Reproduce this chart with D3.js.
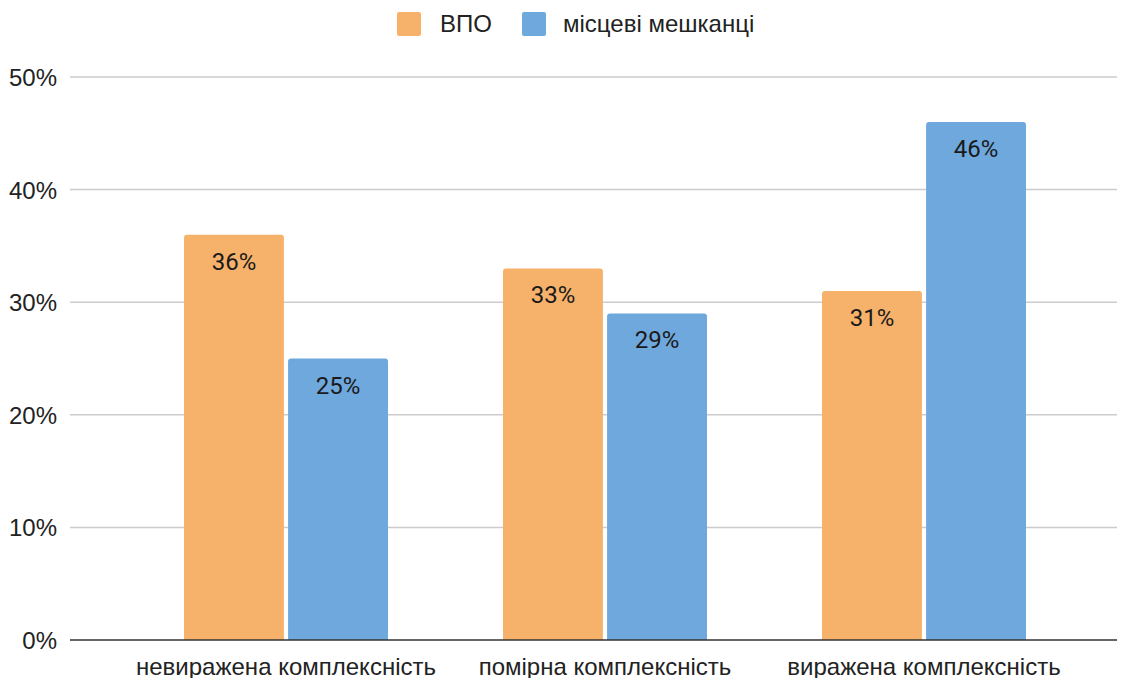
<!DOCTYPE html>
<html>
<head>
<meta charset="utf-8">
<script src="https://cdn.jsdelivr.net/npm/d3@7"></script>
<style>
  body { margin: 0; background: #fff; }
  .chart text { font-family: "Liberation Sans", Arial, sans-serif; }
</style>
</head>
<body>
<div class="chart"></div>
<script>
const categories = ["невиражена комплексність", "помірна комплексність", "виражена комплексність"];
const seriesNames = ["ВПО", "місцеві мешканці"];
const vpo = [36, 33, 31];
const locals = [25, 29, 46];
const yTicks = [0, 10, 20, 30, 40, 50];
const colors = ["#f6b26b", "#6fa8dc"];

const w = 1130, h = 678;
const svg = d3.select(".chart").append("svg")
  .attr("width", w).attr("height", h);

const gridLeft = 70, gridRight = 1117;

const y = d3.scaleLinear().domain([0, 50]).range([640, 77]);
const x0 = d3.scaleBand().domain(categories).range([126.5, 1083.5]);
const x1 = d3.scaleBand().domain(seriesNames).range([0, 204]).paddingInner(0.04);

// gridlines
svg.append("g").selectAll("line")
  .data(yTicks.filter(d => d > 0))
  .enter().append("line")
  .attr("x1", gridLeft).attr("x2", gridRight)
  .attr("y1", d => y(d)).attr("y2", d => y(d))
  .attr("stroke", "#cccccc").attr("stroke-width", 1.5);

// y labels
svg.append("g").selectAll("text")
  .data(yTicks)
  .enter().append("text")
  .attr("x", 57).attr("y", d => y(d) + 9)
  .attr("text-anchor", "end")
  .attr("font-size", 24).attr("fill", "#222")
  .text(d => d + "%");

const rows = categories.map((c, i) => ({ cat: c, vals: [vpo[i], locals[i]] }));

const groups = svg.append("g").selectAll("g")
  .data(rows).enter().append("g")
  .attr("transform", d => "translate(" + (x0(d.cat) + x0.bandwidth() / 2 - 102) + ",0)");

const bars = groups.selectAll("g")
  .data(d => d.vals.map((v, j) => ({ name: seriesNames[j], v: v, j: j })))
  .enter().append("g");

bars.append("path")
  .attr("d", d => {
    const bx = x1(d.name), bw = x1.bandwidth(), top = y(d.v), bot = y(0), r = 3;
    return "M" + bx + "," + bot + "V" + (top + r) + "Q" + bx + "," + top + " " + (bx + r) + "," + top +
      "H" + (bx + bw - r) + "Q" + (bx + bw) + "," + top + " " + (bx + bw) + "," + (top + r) + "V" + bot + "Z";
  })
  .attr("fill", d => colors[d.j]);

bars.append("text")
  .attr("x", d => x1(d.name) + x1.bandwidth() / 2)
  .attr("y", d => y(d.v) + 35)
  .attr("text-anchor", "middle")
  .attr("font-size", 24)
  .style("font-family", "Roboto, sans-serif")
  .attr("fill", "#1a1a1a")
  .text(d => d.v + "%");

// baseline
svg.append("line")
  .attr("x1", gridLeft).attr("x2", gridRight)
  .attr("y1", y(0)).attr("y2", y(0))
  .attr("stroke", "#333").attr("stroke-width", 1.5);

// x labels
svg.append("g").selectAll("text")
  .data(categories).enter().append("text")
  .attr("x", d => x0(d) + x0.bandwidth() / 2)
  .attr("y", 675)
  .attr("text-anchor", "middle")
  .attr("font-size", 24).attr("fill", "#222")
  .text(d => d);

// legend
const legendX = [397, 522];
const legend = svg.append("g").selectAll("g")
  .data(seriesNames).enter().append("g")
  .attr("transform", (d, i) => "translate(" + legendX[i] + ",12)");
legend.append("rect")
  .attr("width", 24).attr("height", 24).attr("rx", 2)
  .attr("fill", (d, i) => colors[i]);
legend.append("text")
  .attr("x", (d, i) => i === 0 ? 43 : 41).attr("y", 20)
  .attr("font-size", 24).attr("fill", "#222")
  .text(d => d);
</script>
</body>
</html>
